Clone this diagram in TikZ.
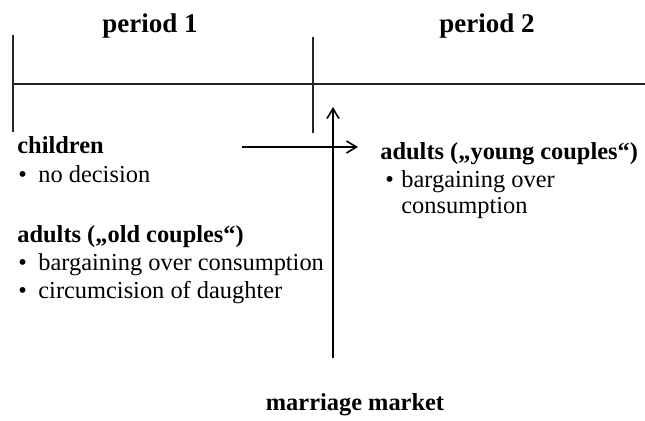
\documentclass[tikz,border=0pt]{standalone}
\usepackage{fontspec}
\setmainfont{Liberation Serif}
\usetikzlibrary{arrows.meta}

\newcommand\bulbox[1]{\makebox[#1][l]{\textbullet}}

\begin{document}
\begin{tikzpicture}[x=0.5pt,y=-0.5pt,
  txt/.style={anchor=base west,inner sep=0pt,font=\fontsize{12.2}{14}\selectfont},
  hd/.style={txt,font=\fontsize{12.2}{14}\selectfont\bfseries},
  per/.style={anchor=base,inner sep=0pt,font=\fontsize{13.5}{16}\selectfont\bfseries},
  tl/.style={line width=1pt,color=black!85},
  arr/.style={line width=0.8pt,-{Straight Barb[length=5pt,width=6pt]}}]
\useasboundingbox (0,0) rectangle (645,420);
% time line, x = px from left, y = px from top
\coordinate (t0) at (13,84);
\coordinate (t1) at (313,84);
\coordinate (tend) at (645,84);
\draw[tl] (t0) -- (tend);
\draw[tl] (13,35) -- (13,132);
\draw[tl] (313,37) -- (313,133);
\node[per] (p1) at (150,32) {period 1};
\node[per] (p2) at (487,32) {period 2};
% period 1
\node[hd] (child) at (17,153) {children};
\node[txt] (nodec) at (18,182) {\bulbox{10pt}no decision};
\node[hd] (old) at (17,242) {adults („old couples“)};
\node[txt] (oldbarg) at (18,270) {\bulbox{10pt}bargaining over consumption};
\node[txt] (circ) at (18,298) {\bulbox{10pt}circumcision of daughter};
% period 2
\node[hd] (young) at (380,159) {adults („young couples“)};
\node[txt] (ybarg1) at (385,187) {\bulbox{8pt}bargaining over};
\node[txt] (ybarg2) at (401,213) {consumption};
% marriage market
\node[anchor=base,inner sep=0pt,font=\fontsize{12.2}{14}\selectfont\bfseries] (mm) at (355,410) {marriage market};
\coordinate (mbot) at (333,358);
\coordinate (mtop) at (333,107);
\draw[arr] (mbot) -- (mtop);
\coordinate (hstart) at (242,147);
\coordinate (hend) at (358,147);
\draw[arr] (hstart) -- (hend);
\end{tikzpicture}
\end{document}
